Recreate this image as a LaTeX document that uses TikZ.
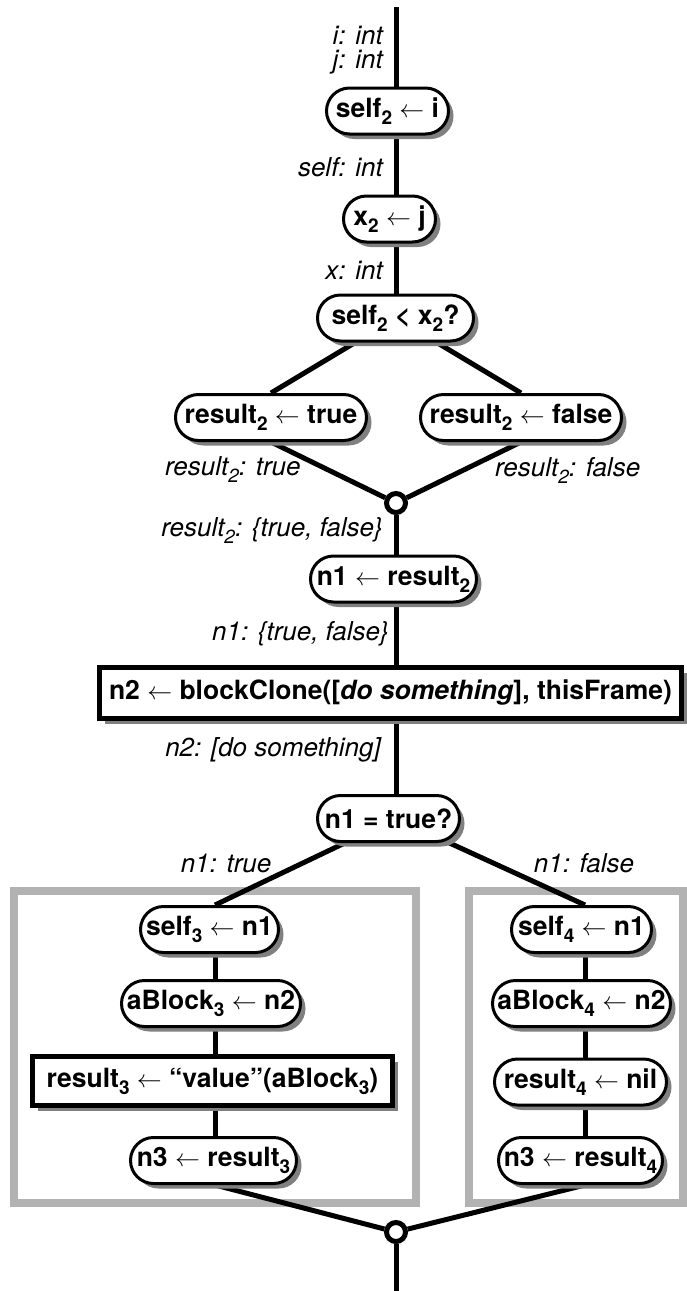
\documentclass[tikz,border=0pt]{standalone}
\usepackage{fontspec}
\setmainfont{TeX Gyre Heros}
\usetikzlibrary{shadows}

\definecolor{shadowgray}{gray}{0.5}
\definecolor{framegray}{gray}{0.7}

% lowered index digit, set a little larger than a usual subscript
\newcommand\lo[1]{\raisebox{-0.27em}{\fontsize{19}{19}\selectfont #1}}

\pgfdeclarelayer{frames}
\pgfdeclarelayer{wires}
\pgfsetlayers{frames,wires,main}

\tikzset{
  txt/.style={font=\fontsize{26.5}{30}\selectfont\bfseries, inner sep=0pt, align=center},
  shade/.style={drop shadow={shadow xshift=5pt, shadow yshift=-5pt, fill=shadowgray, opacity=1}},
  op/.style={txt, shade, draw, fill=white, line width=3pt, minimum height=46pt, rounded corners=23pt},
  call/.style={txt, shade, draw, fill=white, line width=5pt, minimum height=50pt},
  joint/.style={circle, draw, fill=white, line width=5pt, minimum size=19pt, inner sep=0pt},
  lbl/.style={font=\fontsize{26}{30}\selectfont\itshape, inner sep=0pt},
  wire/.style={line width=5pt},
  frame/.style={draw=framegray, line width=8pt},
}

\begin{document}
\begin{tikzpicture}[x=1pt, y=-1pt]
\useasboundingbox (0,0) rectangle (687,1291);

% reference points for the spine and the two branch columns
\coordinate (top) at (396,7);
\coordinate (bottom) at (396,1291);
\coordinate (colL) at (215,0);
\coordinate (colR) at (585,0);

% type annotations
\node[lbl, anchor=east] (ti) at (383,35) {i: int};
\node[lbl, anchor=east] (tj) at (383,62) {j: int};
\node[lbl, anchor=east] (tself) at (383,167) {self: int};
\node[lbl, anchor=east] (tx) at (383,270) {x: int};
\node[lbl, anchor=west] (tt) at (165,470) {result\lo{2}: true};
\node[lbl, anchor=west] (tf) at (495,470) {result\lo{2}: false};
\node[lbl, anchor=east] (tboth) at (383,530) {result\lo{2}: \{true, false\}};
\node[lbl, anchor=east] (tn1) at (389,634) {n1: \{true, false\}};
\node[lbl, anchor=east] (tn2) at (381,750) {n2: [do something]};
\node[lbl] (tn1t) at (226,863) {n1: true};
\node[lbl] (tn1f) at (584,863) {n1: false};

% main sequence
\node[op, minimum width=122pt] (s2) at (387.5,111) {self\lo{2} $\leftarrow$ i};
\node[op, minimum width=92pt] (x2) at (389.5,219) {x\lo{2} $\leftarrow$ j};
\node[op, minimum width=156pt] (cmp) at (395.5,318) {self\lo{2} < x\lo{2}?};
\node[op, minimum width=191pt] (rt) at (271,417.5) {result\lo{2} $\leftarrow$ true};
\node[op, minimum width=201pt] (rf) at (521,417.5) {result\lo{2} $\leftarrow$ false};
\node[joint] (m1) at (396,503) {};
\node[op, minimum width=166pt] (n1r) at (393.5,579) {n1 $\leftarrow$ result\lo{2}};
\node[call, minimum width=582pt, minimum height=51pt] (clone) at (390.5,693)
  {n2 $\leftarrow$ blockClone([\textit{do something}], thisFrame)};
\node[op, minimum width=142pt] (test) at (388.5,818.5) {n1 = true?};

% true branch
\node[op, minimum width=138pt] (self3) at (209.5,929.5) {self\lo{3} $\leftarrow$ n1};
\node[op, minimum width=179pt] (ab3) at (211,1003.5) {aBlock\lo{3} $\leftarrow$ n2};
\node[call, minimum width=360pt, minimum height=49pt] (res3) at (212.5,1081)
  {result\lo{3} $\leftarrow$ “value”(aBlock\lo{3})};
\node[op, minimum width=166pt] (n3a) at (213.5,1160.5) {n3 $\leftarrow$ result\lo{3}};

% false branch
\node[op, minimum width=140pt] (self4) at (581.5,929.5) {self\lo{4} $\leftarrow$ n1};
\node[op, minimum width=178pt] (ab4) at (581.5,1003.5) {aBlock\lo{4} $\leftarrow$ n2};
\node[op, minimum width=172pt] (res4) at (580.5,1082) {result\lo{4} $\leftarrow$ nil};
\node[op, minimum width=164pt] (n3b) at (580.5,1160.5) {n3 $\leftarrow$ result\lo{4}};

\node[joint] (m2) at (396,1232) {};

% branch frames
\begin{pgfonlayer}{frames}
  \draw[frame] (14,891) rectangle (416,1203);
  \draw[frame] (469,891) rectangle (683,1203);
\end{pgfonlayer}

% connectors
\begin{pgfonlayer}{wires}
  \draw[wire] (top) -- (s2 -| top) -- (x2 -| top) -- (cmp -| top);
  \draw[wire] (cmp -| top) -- (rt.north);
  \draw[wire] (cmp -| top) -- (rf.north);
  \draw[wire] (rt.south) -- (m1);
  \draw[wire] (rf.south) -- (m1);
  \draw[wire] (m1) -- (n1r -| top) -- (clone -| top) -- (test -| top);
  \draw[wire] (test -| top) -- (self3.north -| colL);
  \draw[wire] (test -| top) -- (self4.north -| colR);
  \draw[wire] (self3 -| colL) -- (ab3 -| colL) -- (res3 -| colL) -- (n3a -| colL);
  \draw[wire] (self4 -| colR) -- (ab4 -| colR) -- (res4 -| colR) -- (n3b -| colR);
  \draw[wire] (n3a.south -| colL) -- (m2);
  \draw[wire] (n3b.south -| colR) -- (m2);
  \draw[wire] (m2) -- (bottom);
\end{pgfonlayer}
\end{tikzpicture}
\end{document}
